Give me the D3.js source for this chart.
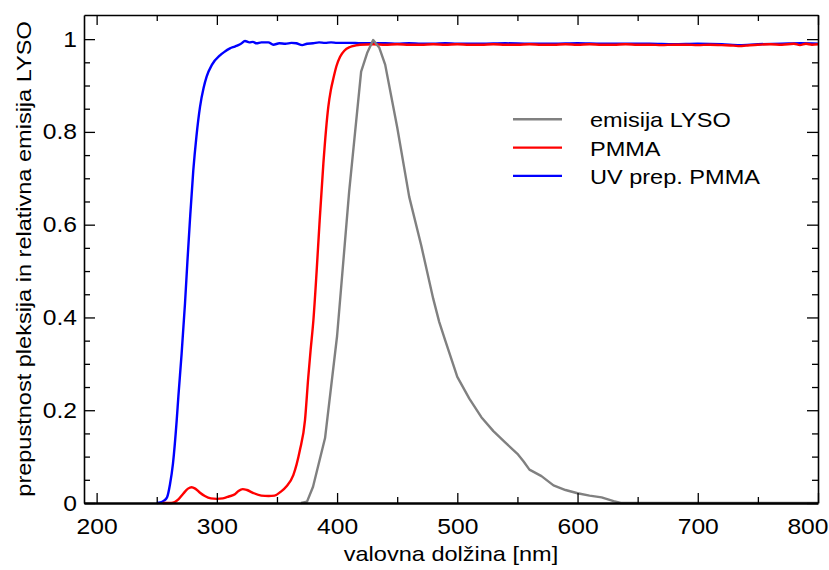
<!DOCTYPE html>
<html>
<head>
<meta charset="utf-8">
<script src="https://cdn.jsdelivr.net/npm/d3@7"></script>
<style>
    body { margin: 0; background: #fff; }
    text { font-family: "Liberation Sans", Arial, sans-serif; fill: #000; }
    .axis path, .axis line { stroke: #000; }
</style>
</head>
<body>
<div id="chart"></div>
<script>
// Data
// emisija LYSO
const lysoWl = [370, 375, 380, 390, 400, 410, 420, 425, 430, 435, 440, 450, 460, 470, 480, 485, 490, 500, 510, 520, 530, 540, 550, 555, 560, 570, 580, 590, 600, 610, 620, 630, 636, 700, 800]
const lysoI = [0, 0.003, 0.035, 0.14, 0.36, 0.67, 0.93, 0.97, 0.998, 0.982, 0.945, 0.81, 0.66, 0.555, 0.44, 0.39, 0.35, 0.272, 0.225, 0.185, 0.155, 0.13, 0.106, 0.09, 0.072, 0.058, 0.038, 0.028, 0.021, 0.016, 0.012, 0.004, 0, 0, 0]

// PMMA
const pmmaWl = [255, 262, 265, 268, 272, 276, 279, 282, 286, 290, 295, 300, 305, 310, 315, 318, 321.5, 325, 330, 337, 343, 348, 353, 358, 363.6, 369, 373.3, 376, 378, 380.3, 383, 385.3, 388.6, 392.7, 394.8, 396.9, 399.5, 402.5, 406, 410.8, 415, 419, 430, 440, 450, 460, 470, 480, 490, 500, 510, 520, 530, 540, 550, 560, 570, 580, 590, 600, 610, 620, 630, 640, 650, 660, 670, 680, 690, 700, 710, 720, 730, 735, 740, 750, 760, 770, 780, 785, 790, 795, 800]
const pmmaT = [0, 0, 0.002, 0.008, 0.02, 0.031, 0.034, 0.031, 0.022, 0.015, 0.01, 0.009, 0.01, 0.014, 0.019, 0.026, 0.030, 0.028, 0.022, 0.016, 0.015, 0.016, 0.024, 0.036, 0.06, 0.113, 0.178, 0.27, 0.33, 0.394, 0.5, 0.6, 0.732, 0.854, 0.89, 0.915, 0.942, 0.962, 0.975, 0.983, 0.986, 0.988, 0.989, 0.988, 0.989, 0.988, 0.988, 0.989, 0.988, 0.989, 0.988, 0.988, 0.989, 0.988, 0.988, 0.989, 0.988, 0.988, 0.989, 0.988, 0.989, 0.988, 0.988, 0.989, 0.988, 0.988, 0.987, 0.988, 0.988, 0.987, 0.988, 0.987, 0.986, 0.985, 0.986, 0.988, 0.989, 0.988, 0.990, 0.987, 0.990, 0.988, 0.989]

// UV prep. PMMA
const uvWl = [250, 253, 256, 258.6, 261, 263.5, 266.6, 268, 270.7, 273.5, 275.5, 277.6, 280.4, 283, 286, 289, 291.5, 296, 302.6, 306, 310.9, 315, 317.8, 320, 323.4, 327, 330, 333, 337, 342.8, 347, 352, 357, 362, 366, 371, 375, 380, 385, 390, 395, 400, 410, 420, 430, 440, 450, 460, 470, 480, 490, 500, 520, 540, 560, 580, 600, 620, 640, 660, 680, 700, 720, 735, 750, 770, 785, 800]
const uvT = [0, 0.001, 0.005, 0.0125, 0.04, 0.085, 0.178, 0.23, 0.322, 0.43, 0.52, 0.609, 0.717, 0.79, 0.854, 0.895, 0.919, 0.945, 0.965, 0.972, 0.980, 0.984, 0.987, 0.990, 0.996, 0.993, 0.994, 0.991, 0.993, 0.993, 0.988, 0.991, 0.990, 0.992, 0.991, 0.987, 0.990, 0.991, 0.993, 0.992, 0.993, 0.992, 0.992, 0.991, 0.991, 0.991, 0.990, 0.991, 0.990, 0.990, 0.991, 0.990, 0.990, 0.991, 0.990, 0.990, 0.991, 0.990, 0.990, 0.990, 0.989, 0.990, 0.989, 0.987, 0.989, 0.990, 0.991, 0.990]

const series = [
    { name: 'UV prep. PMMA', wl: uvWl, val: uvT, color: '#0000ff', smooth: true },
    { name: 'PMMA', wl: pmmaWl, val: pmmaT, color: '#ff0000', smooth: true },
    { name: 'emisija LYSO', wl: lysoWl, val: lysoI, color: '#808080', smooth: false }
]
const legendOrder = ['emisija LYSO', 'PMMA', 'UV prep. PMMA']

const xMajor = [200, 300, 400, 500, 600, 700, 800]
const yMajor = [0, 0.2, 0.4, 0.6, 0.8, 1]

// Dimension
let dimension = {
    width: 829,
    height: 570,
    margin: { top: 15, bottom: 67, left: 84, right: 11 }
}
dimension.ctrwidth = dimension.width - dimension.margin.left - dimension.margin.right
dimension.ctrheight = dimension.height - dimension.margin.top - dimension.margin.bottom

const stretch = 1.12
function widen(sel) {
    sel.each(function () {
        const len = this.getComputedTextLength()
        d3.select(this)
            .attr('textLength', len * stretch)
            .attr('lengthAdjust', 'spacingAndGlyphs')
    })
}

// Draw Image
const svg = d3.select('#chart')
    .append('svg')
    .attr('width', dimension.width)
    .attr('height', dimension.height)

const ctr = svg.append('g')
    .attr('transform', `translate(${dimension.margin.left}, ${dimension.margin.top})`)

// Scales
const xScale = d3.scaleLinear()
    .domain([189.5, 800])
    .range([0, dimension.ctrwidth])

const yScale = d3.scaleLinear()
    .domain([0, 1.052])
    .range([dimension.ctrheight, 0])

const xMinor = d3.range(200, 801, 50).filter(v => !xMajor.includes(v))
const yMinor = d3.range(0, 21).map(i => i * 0.05).filter(v => !yMajor.some(m => Math.abs(m - v) < 1e-6))

// Lines
series.forEach(s => {
    const pts = s.wl.map((w, i) => [w, s.val[i]])
    const line = d3.line()
        .x(d => xScale(d[0]))
        .y(d => yScale(d[1]))
        .curve(s.smooth ? d3.curveMonotoneX : d3.curveLinear)
    ctr.append('path')
        .datum(pts)
        .attr('fill', 'none')
        .attr('stroke', s.color)
        .attr('stroke-width', 2.4)
        .attr('stroke-linejoin', 'round')
        .attr('d', line)
})

// Axes
function addAxis(axis, transform, width) {
    const g = ctr.append('g')
        .attr('class', 'axis')
        .attr('transform', transform)
        .call(axis)
    g.select('.domain').attr('stroke-width', width)
    g.selectAll('.tick line').attr('stroke-width', 1.3)
    return g
}

const bottom = addAxis(d3.axisBottom(xScale).tickValues(xMajor).tickSize(-10).tickPadding(15).tickSizeOuter(0),
    `translate(0, ${dimension.ctrheight})`, 2.5)
bottom.selectAll('text').style('font-size', '22px').call(widen)
// last label is pushed left so that it stays inside the picture
bottom.selectAll('.tick').filter(d => d === 800).select('text')
    .attr('text-anchor', 'end')
    .attr('x', 10)

addAxis(d3.axisBottom(xScale).tickValues(xMinor).tickSize(-6).tickFormat('').tickSizeOuter(0),
    `translate(0, ${dimension.ctrheight})`, 0)

addAxis(d3.axisTop(xScale).tickValues(xMajor).tickSize(-10).tickFormat('').tickSizeOuter(0), 'translate(0,0)', 1.6)
addAxis(d3.axisTop(xScale).tickValues(xMinor).tickSize(-6).tickFormat('').tickSizeOuter(0), 'translate(0,0)', 0)

const left = addAxis(d3.axisLeft(yScale).tickValues(yMajor).tickSize(-11).tickPadding(7).tickSizeOuter(0)
    .tickFormat(d => d === 0 || d === 1 ? d : d3.format('.1f')(d)), 'translate(0,0)', 1.6)
left.selectAll('text').style('font-size', '22px').call(widen)
addAxis(d3.axisLeft(yScale).tickValues(yMinor).tickSize(-6).tickFormat('').tickSizeOuter(0), 'translate(0,0)', 0)

addAxis(d3.axisRight(yScale).tickValues(yMajor).tickSize(-11).tickFormat('').tickSizeOuter(0),
    `translate(${dimension.ctrwidth},0)`, 1.6)
addAxis(d3.axisRight(yScale).tickValues(yMinor).tickSize(-6).tickFormat('').tickSizeOuter(0),
    `translate(${dimension.ctrwidth},0)`, 0)

// Axis titles
svg.append('text')
    .attr('x', 451)
    .attr('y', 561)
    .attr('text-anchor', 'middle')
    .style('font-size', '21px')
    .text('valovna dolžina [nm]')
    .call(widen)

svg.append('text')
    .attr('transform', 'translate(31, 259) rotate(-90)')
    .attr('text-anchor', 'middle')
    .style('font-size', '21px')
    .text('prepustnost pleksija in relativna emisija LYSO')
    .call(widen)

// Legend
const legend = svg.append('g')
legendOrder.forEach((name, i) => {
    const s = series.find(d => d.name === name)
    const y = 119.3 + i * 28.3
    legend.append('line')
        .attr('x1', 513).attr('x2', 562)
        .attr('y1', y).attr('y2', y)
        .attr('stroke', s.color)
        .attr('stroke-width', 2.4)
    legend.append('text')
        .attr('x', 590)
        .attr('y', y + 8)
        .style('font-size', '21px')
        .text(name)
        .call(widen)
})
</script>
</body>
</html>
